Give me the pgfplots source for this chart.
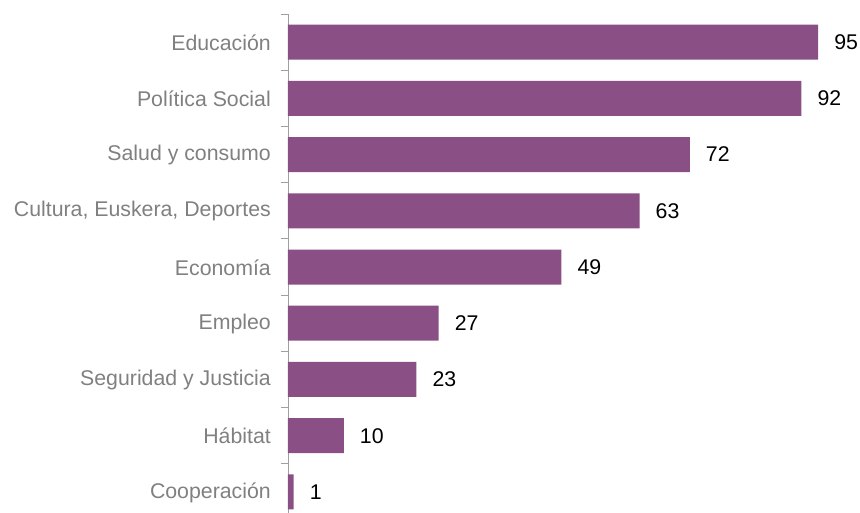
\documentclass[border=0pt]{standalone}
\usepackage{pgfplots}
\pgfplotsset{compat=1.18}
\usepackage{fontspec}
\setmainfont{Liberation Sans}
\definecolor{barc}{RGB}{138,80,133}
\definecolor{labc}{RGB}{128,128,128}
\definecolor{axc}{RGB}{160,160,160}
\begin{document}
\begin{tikzpicture}[x=1pt,y=1pt]
\useasboundingbox (0,0) rectangle (860,513);
\begin{axis}[
  at={(288pt,-7pt)}, anchor=south west,
  scale only axis, width=558pt, height=506pt,
  xmin=0, xmax=100, ymin=-0.5, ymax=8.5, y dir=reverse,
  hide x axis,
  axis y line*=left,
  y axis line style={-, draw=axc, line width=0.8pt},
  /pgf/number format/assume math mode=true,
  ytick={0,...,8},
  yticklabels={Educación, Política Social, Salud y consumo, {Cultura, Euskera, Deportes}, Economía, Empleo, Seguridad y Justicia, Hábitat, Cooperación},
  major tick length=0pt,
  minor ytick={-0.5,0.5,...,8.5},
  minor tick length=7pt,
  tick align=outside,
  ytick pos=left,
  minor tick style={draw=axc, line width=0.8pt},
  yticklabel style={font=\fontsize{21.3}{25}\selectfont, text=labc, inner sep=0pt, xshift=-17pt, yshift=-0.5pt},
  clip=false,
]
\addplot[xbar, bar width=35pt, fill=barc, draw=none,
  nodes near coords,
  every node near coord/.append style={anchor=west, inner sep=0pt, xshift=16pt, text=black, font=\fontsize{21.3}{25}\selectfont}]
  coordinates {(95,0) (92,1) (72,2) (63,3) (49,4) (27,5) (23,6) (10,7) (1,8)};
\end{axis}
\end{tikzpicture}
\end{document}
